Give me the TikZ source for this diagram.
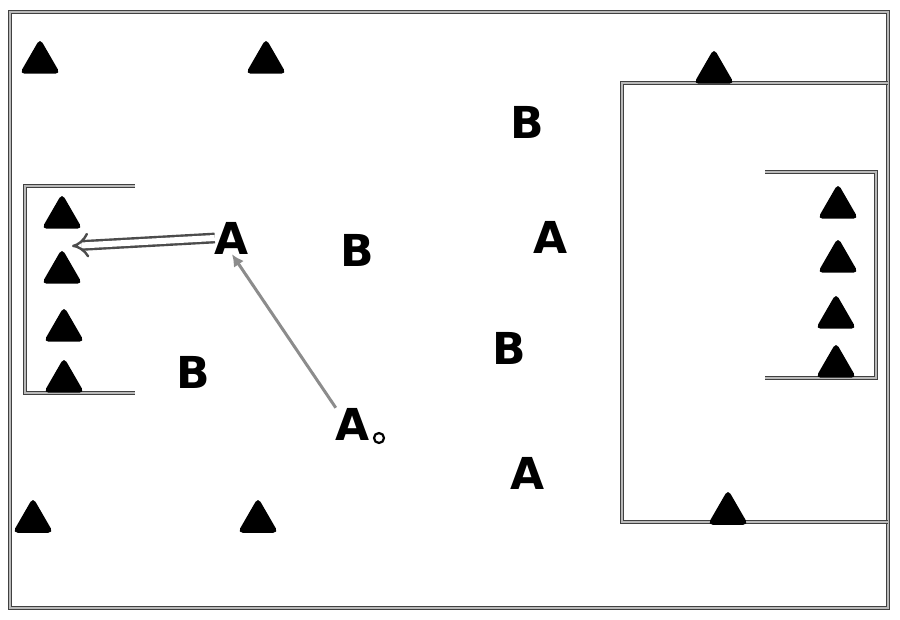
\documentclass[tikz,border=0pt]{standalone}
\usepackage{fontspec}
\setsansfont{DejaVu Sans}
\usetikzlibrary{shapes.geometric,arrows.meta}
\tikzset{
cone/.style={regular polygon, regular polygon sides=3, fill=black, minimum size=47pt, inner sep=0pt, rounded corners=5pt},
player/.style={font=\fontsize{44}{44}\selectfont\sffamily\bfseries, inner sep=0pt},
fieldline/.style={draw=black!75, double=gray!55, double distance=2.2pt, line width=1pt},
passarrow/.style={draw=gray!60!black, double=white, double distance=6pt, line width=2.4pt, -{Implies}},
runarrow/.style={draw=gray!90, line width=3pt, -{Latex[length=12pt,width=12pt]}}
}
\begin{document}
\begin{tikzpicture}[x=1pt,y=-1pt]
\useasboundingbox (0,0) rectangle (900,620);
\draw[fieldline] (10,12) rectangle (888,608);
\draw[fieldline] (888,83) -- (622,83) -- (622,522) -- (888,522);
\draw[fieldline] (765,172) -- (876,172) -- (876,378) -- (765,378);
\draw[fieldline] (135,186) -- (25,186) -- (25,393) -- (135,393);
\node[cone] (c1) at (40,62) {};
\node[cone] (c2) at (266,62) {};
\node[cone] (c3) at (33,521) {};
\node[cone] (c4) at (258,521) {};
\node[cone] (c5) at (714,72) {};
\node[cone] (c6) at (728,513) {};
\node[cone] (l1) at (62,217) {};
\node[cone] (l2) at (62,272) {};
\node[cone] (l3) at (64,330) {};
\node[cone] (l4) at (64,381) {};
\node[cone] (r1) at (838,207) {};
\node[cone] (r2) at (838,261) {};
\node[cone] (r3) at (836,317) {};
\node[cone] (r4) at (836,366) {};
\node[player] (a1) at (232,238) {A};
\node[player] (a2) at (551,237) {A};
\node[player] (a3) at (353,424) {A};
\node[player] (a4) at (528,473) {A};
\node[player] (b1) at (527,122) {B};
\node[player] (b2) at (357,250) {B};
\node[player] (b3) at (509,348) {B};
\node[player] (b4) at (193,372) {B};
\node[circle, draw, line width=2.2pt, fill=white, minimum size=10pt, inner sep=0pt] (ball) at (379,438) {};
\coordinate (t1) at (72,246);
\draw[passarrow] (a1.west) -- (t1);
\draw[runarrow] (a3.north west) -- (a1.south);
\end{tikzpicture}
\end{document}
